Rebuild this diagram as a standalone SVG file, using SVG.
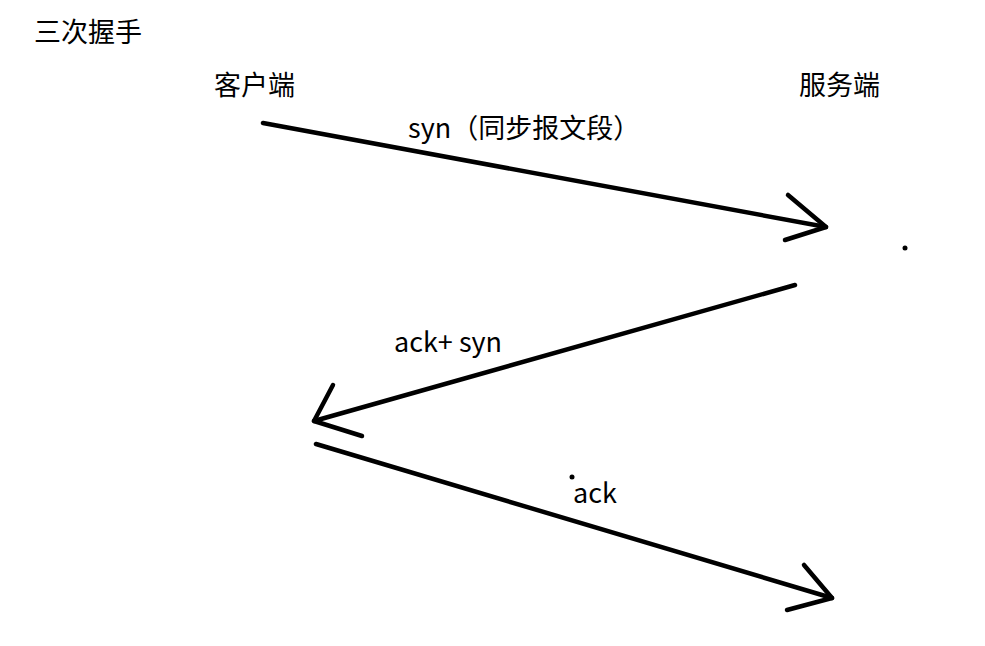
<svg xmlns="http://www.w3.org/2000/svg" width="985" height="646" viewBox="0 0 985 646">
<style>
.t{font-family:"Noto Sans CJK SC","Noto Sans",sans-serif;font-size:27px;fill:#000}
.l{fill:none;stroke:#000;stroke-width:4.5;stroke-linecap:round;stroke-linejoin:round}
</style>
<rect width="985" height="646" fill="#fff"/>
<g id="title"><text class="t" x="34" y="42">三次握手</text></g>
<g id="client"><text class="t" x="214" y="95">客户端</text></g>
<g id="server"><text class="t" x="799" y="95">服务端</text></g>
<g id="connectors">
<line class="l" x1="263" y1="123" x2="826" y2="227"/>
<polyline class="l" points="788,195 826,227 785,240"/>
<line class="l" x1="795" y1="285" x2="314" y2="421"/>
<polyline class="l" points="333,385 314,421 362,436"/>
<line class="l" x1="316" y1="444" x2="832" y2="598"/>
<polyline class="l" points="804,565 832,598 787,610"/>
</g>
<g id="labels">
<text class="t" x="408" y="138">syn（同步报文段）</text>
<text class="t" x="394" y="352">ack+ syn</text>
<text class="t" x="573" y="503">ack</text>
</g>
<circle cx="905" cy="248" r="2.5" fill="#000"/>
<circle cx="572" cy="477" r="2.5" fill="#000"/>
</svg>
